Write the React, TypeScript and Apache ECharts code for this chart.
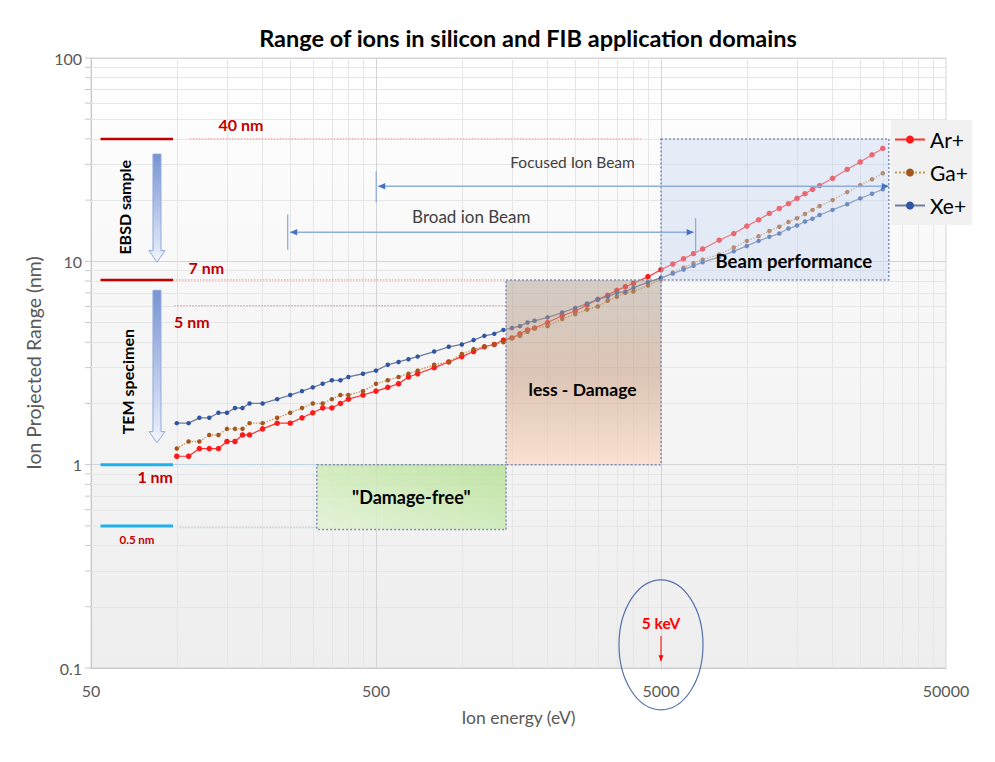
import React, { useEffect, useRef } from 'react';
import * as echarts from 'echarts';

const chartTitle = 'Range of ions in silicon and FIB application domains';
const seriesNames = ['Ar+', 'Ga+', 'Xe+'];

// Ion energy (eV)
const energies = [
  100, 110, 120, 130, 140, 150, 160, 170, 180,
  200, 225, 250, 275, 300, 325, 350, 375, 400,
  450, 500, 550, 600, 650, 700,
  800, 900, 1000, 1100, 1200, 1300, 1400, 1500, 1600, 1700, 1800,
  2000, 2250, 2500, 2750, 3000, 3250, 3500, 3750, 4000,
  4500, 5000, 5500, 6000, 6500, 7000,
  8000, 9000, 10000, 11000, 12000, 13000, 14000, 15000, 16000, 17000, 18000,
  20000, 22500, 25000, 27500, 30000,
];

// Projected range (nm)
const arRange = [
  1.1, 1.1, 1.2, 1.2, 1.2, 1.3, 1.3, 1.4, 1.4,
  1.5, 1.6, 1.6, 1.7, 1.8, 1.9, 1.9, 2.0, 2.1,
  2.2, 2.3, 2.4, 2.5, 2.7, 2.8,
  3.0, 3.2, 3.4, 3.6, 3.8, 3.9, 4.1, 4.2, 4.4, 4.6, 4.7,
  5.0, 5.4, 5.7, 6.1, 6.5, 6.8, 7.2, 7.5, 7.8,
  8.4, 9.1, 9.7, 10.3, 10.9, 11.5,
  12.7, 13.7, 14.9, 16.0, 17.2, 18.2, 19.2, 20.4, 21.5, 22.6, 23.6,
  25.6, 28.3, 30.8, 33.4, 35.9,
];
const gaRange = [
  1.2, 1.3, 1.3, 1.4, 1.4, 1.5, 1.5, 1.5, 1.6,
  1.6, 1.7, 1.8, 1.9, 2.0, 2.0, 2.1, 2.2, 2.2,
  2.3, 2.5, 2.6, 2.7, 2.8, 2.9,
  3.1, 3.2, 3.5, 3.7, 3.8, 3.9, 4.0, 4.2, 4.3, 4.5, 4.7,
  4.8, 5.2, 5.5, 5.8, 6.0, 6.4, 6.7, 7.0, 7.1,
  7.6, 8.2, 8.8, 9.3, 9.8, 10.2,
  10.8, 11.7, 12.6, 13.3, 14.1, 14.8, 15.6, 16.3, 17.1, 17.9, 18.7,
  20.0, 21.9, 23.7, 25.3, 27.1,
];
const xeRange = [
  1.6, 1.6, 1.7, 1.7, 1.8, 1.8, 1.9, 1.9, 2.0,
  2.0, 2.1, 2.2, 2.3, 2.4, 2.5, 2.6, 2.6, 2.7,
  2.8, 2.9, 3.1, 3.2, 3.3, 3.4,
  3.6, 3.8, 3.9, 4.1, 4.3, 4.4, 4.6, 4.7, 4.8, 5.0, 5.1,
  5.3, 5.6, 5.9, 6.2, 6.5, 6.7, 7.0, 7.1, 7.4,
  7.9, 8.3, 8.7, 9.1, 9.5, 9.9,
  10.5, 11.2, 11.9, 12.6, 13.2, 13.7, 14.5, 15.0, 15.7, 16.2, 16.9,
  17.9, 19.1, 20.4, 21.5, 22.6,
];

const xTickValues = [50, 500, 5000, 50000];
const xTickLabels = ['50', '500', '5000', '50000'];
const xMajorInner = [500, 5000];
const xMinorValues = [
  100, 150, 200, 250, 300, 350, 400, 450,
  1000, 1500, 2000, 2500, 3000, 3500, 4000, 4500,
  10000, 15000, 20000, 25000, 30000, 35000, 40000, 45000,
];
const yMinorValues = [
  0.2, 0.3, 0.4, 0.5, 0.6, 0.7, 0.8, 0.9,
  2, 3, 4, 5, 6, 7, 8, 9,
  20, 30, 40, 50, 60, 70, 80, 90,
];
const yMajorValues = [0.1, 1, 10, 100];

const FONT = 'Lato, "Open Sans", "DejaVu Sans", sans-serif';

export default function App() {
  const ref = useRef<HTMLDivElement>(null);

  useEffect(() => {
    if (!ref.current) return;
    const chart = echarts.init(ref.current, null, { renderer: 'svg' });

    const option: any = {
      animation: false,
      backgroundColor: '#ffffff',
      textStyle: { fontFamily: FONT },
      grid: {
        left: 91, right: 49, top: 58, bottom: 94,
        show: true,
        borderColor: '#d6d6d6',
        borderWidth: 1,
        backgroundColor: new echarts.graphic.LinearGradient(0, 0, 0, 1, [
          { offset: 0, color: '#ffffff' },
          { offset: 0.4, color: '#f7f7f7' },
          { offset: 1, color: '#eeeeee' },
        ]),
      },
      legend: {
        data: seriesNames,
        orient: 'vertical',
        left: 891,
        top: 120,
        backgroundColor: '#f1f1f1',
        padding: [9, 4, 9, 3],
        itemGap: 12,
        itemWidth: 30,
        itemHeight: 10,
        selectedMode: false,
        textStyle: { fontSize: 21, color: '#000', fontFamily: FONT },
      },
      xAxis: {
        type: 'log',
        logBase: 10,
        min: 50,
        max: 50000,
        name: 'Ion energy (eV)',
        nameLocation: 'middle',
        nameGap: 40,
        nameTextStyle: { fontSize: 17.5, color: '#595959', fontFamily: FONT },
        axisLine: { show: true, lineStyle: { color: '#c8c8c8' } },
        axisTick: { show: false },
        axisLabel: { show: false },
        splitLine: { show: false },
      },
      yAxis: {
        type: 'log',
        logBase: 10,
        min: 0.1,
        max: 100,
        name: 'Ion Projected Range (nm)',
        nameLocation: 'middle',
        nameGap: 47,
        nameTextStyle: { fontSize: 19.5, color: '#595959', fontFamily: FONT },
        axisLine: { show: true, lineStyle: { color: '#c8c8c8' } },
        axisTick: { show: false },
        axisLabel: {
          fontSize: 16, color: '#595959', margin: 9, fontFamily: FONT,
          formatter: (v: number) => String(Number(v.toPrecision(6))),
        },
        splitLine: { show: true, lineStyle: { color: '#d4d4d4', width: 1 } },
      },
      series: [
        {
          name: 'Ar+', type: 'line', z: 2,
          data: energies.map((e, i) => [e, arRange[i]]),
          symbol: 'circle', symbolSize: 5.5,
          itemStyle: { color: '#ff1a1a' },
          lineStyle: { color: '#ff3030', width: 1.2 },
        },
        {
          name: 'Ga+', type: 'line', z: 2,
          data: energies.map((e, i) => [e, gaRange[i]]),
          symbol: 'circle', symbolSize: 4.5,
          itemStyle: { color: '#a5561c' },
          lineStyle: { color: '#c49a5a', width: 1.4, type: 'dotted' },
        },
        {
          name: 'Xe+', type: 'line', z: 2,
          data: energies.map((e, i) => [e, xeRange[i]]),
          symbol: 'circle', symbolSize: 4.5,
          itemStyle: { color: '#2f55a4' },
          lineStyle: { color: '#6d7e9e', width: 1.3 },
        },
        {
          name: 'gridlines', type: 'line', z: 1,
          data: [], silent: true, showSymbol: false,
          markLine: {
            silent: true, z: 1,
            symbol: ['none', 'none'],
            label: { show: false },
            lineStyle: { color: '#e6e6e6', width: 1, type: 'solid' },
            data: [
              ...xMinorValues.map((v) => ({ xAxis: v })),
              ...yMinorValues.map((v) => ({ yAxis: v })),
              ...xMajorInner.map((v) => ({ xAxis: v, lineStyle: { color: '#d4d4d4', width: 1, type: 'solid' } })),
            ],
          },
        },
      ],
    };

    chart.setOption(option);

    const p = (e: number, r: number): number[] =>
      chart.convertToPixel({ seriesIndex: 0 }, [e, r]) as number[];

    const g: any[] = [];
    const line = (a: number[], b: number[], stroke: string, width: number, dash?: number[], z = 4) => ({
      type: 'line', z, silent: true,
      shape: { x1: a[0], y1: a[1], x2: b[0], y2: b[1] },
      style: { stroke, lineWidth: width, lineDash: dash || null },
    });
    const text = (x: number, y: number, t: string, size: number, color: string, weight = 'bold', rot = 0, z = 12) => ({
      type: 'text', z, x, y, rotation: rot, silent: true,
      style: { text: t, fill: color, fontSize: size, fontWeight: weight, fontFamily: FONT, align: 'center', verticalAlign: 'middle' },
    });
    const head = (x: number, y: number, dir: string, color: string, len = 7, half = 3.2) => {
      let pts: number[][];
      if (dir === 'left') pts = [[x, y], [x + len, y - half], [x + len, y + half]];
      else if (dir === 'right') pts = [[x, y], [x - len, y - half], [x - len, y + half]];
      else pts = [[x, y], [x - half, y - len], [x + half, y - len]];
      return { type: 'polygon', z: 6, silent: true, shape: { points: pts }, style: { fill: color } };
    };
    const box = (e1: number, e2: number, rLow: number, rHigh: number, fill: any) => {
      const a = p(e1, rHigh);
      const b = p(e2, rLow);
      return {
        type: 'rect', z: 3, silent: true,
        shape: { x: a[0], y: a[1], width: b[0] - a[0], height: b[1] - a[1] },
        style: { fill, stroke: '#7d8fb6', lineWidth: 1.5, lineDash: [2, 2] },
      };
    };
    const blockArrow = (e: number, rTop: number, rHead: number, rTip: number) => {
      const t = p(e, rTop), h = p(e, rHead), tip = p(e, rTip);
      const cx = t[0];
      return {
        type: 'polygon', z: 5, silent: true,
        shape: {
          points: [
            [cx - 4, t[1]], [cx + 4, t[1]], [cx + 4, h[1]], [cx + 8, h[1]],
            [cx, tip[1]], [cx - 8, h[1]], [cx - 4, h[1]],
          ],
        },
        style: {
          fill: new echarts.graphic.LinearGradient(0, 0, 0, 1, [
            { offset: 0, color: '#7693d3' },
            { offset: 0.85, color: '#dbe4f5' },
            { offset: 1, color: '#f4f7fc' },
          ]),
          stroke: '#91aade',
          lineWidth: 1,
        },
      };
    };

    // Title
    g.push(text(528, 38, chartTitle, 23.5, '#000000', 'bold', 0, 20));

    // X tick labels
    xTickValues.forEach((v, i) => {
      const a = p(v, 0.1);
      g.push(text(a[0], a[1] + 22, xTickLabels[i], 16, '#595959', 'normal', 0, 20));
    });

    // Y-axis ticks (outside)
    [...yMajorValues, ...yMinorValues].forEach((v) => {
      const a = p(50, v);
      g.push(line([a[0] - 6, a[1]], [a[0], a[1]], '#c8c8c8', 1, undefined, 20));
    });

    // Domain rectangles
    g.push(box(310, 1430, 0.48, 1.0, new echarts.graphic.LinearGradient(0, 1, 1, 0, [
      { offset: 0, color: 'rgba(226,244,212,0.8)' },
      { offset: 1, color: 'rgba(180,224,146,0.8)' },
    ])));
    g.push(box(1430, 5000, 1.0, 8.1, new echarts.graphic.LinearGradient(0, 0, 0, 1, [
      { offset: 0, color: 'rgba(176,160,146,0.5)' },
      { offset: 0.5, color: 'rgba(196,152,122,0.52)' },
      { offset: 1, color: 'rgba(255,210,182,0.55)' },
    ])));
    g.push(box(5000, 31500, 8.1, 40, 'rgba(200,214,240,0.42)'));

    const redSolid = '#c00000';
    const redDot = '#f08a8a';
    const blueSolid = '#1fb0ee';
    const blueDot = '#a9d2ee';
    // Reference thickness lines
    g.push(line(p(54, 40), p(97, 40), redSolid, 2.5));
    g.push(line(p(111, 40), p(4250, 40), redDot, 1, [1.5, 1.5]));
    g.push(line(p(54, 8.1), p(97, 8.1), redSolid, 2.5));
    g.push(line(p(97, 8.1), p(1430, 8.1), redDot, 1, [1.5, 1.5]));
    g.push(line(p(98, 6.05), p(1430, 6.05), redDot, 1, [1.5, 1.5]));
    g.push(line(p(54, 1), p(97, 1), blueSolid, 3));
    g.push(line(p(97, 1), p(310, 1), blueDot, 1, [1.5, 1.5]));
    g.push(line(p(54, 0.5), p(97, 0.5), blueSolid, 3));
    g.push(line(p(102, 0.49), p(310, 0.49), blueDot, 1, [1.5, 1.5]));

    const q = (e: number, r: number) => p(e, r);
    let a = q(168, 47.3); g.push(text(a[0], a[1], '40 nm', 16, redSolid));
    a = q(127, 9.34); g.push(text(a[0], a[1], '7 nm', 16, redSolid));
    a = q(113, 5.06); g.push(text(a[0], a[1], '5 nm', 16, redSolid));
    a = q(84, 0.873); g.push(text(a[0], a[1], '1 nm', 16, redSolid));
    a = q(72.5, 0.427); g.push(text(a[0], a[1], '0.5 nm', 11.5, redSolid));

    // Vertical block arrows and rotated labels
    g.push(blockArrow(85.2, 33.7, 11.3, 9.89));
    g.push(blockArrow(85.2, 7.2, 1.454, 1.283));
    a = q(65.8, 18.45); g.push(text(a[0], a[1], 'EBSD sample', 16, '#000000', 'bold', Math.PI / 2));
    a = q(67.1, 2.56); g.push(text(a[0], a[1], 'TEM specimen', 16, '#000000', 'bold', Math.PI / 2));

    // Domain labels
    a = q(665, 0.69); g.push(text(a[0], a[1], '"Damage-free"', 18, '#000000'));
    a = q(2653, 2.34); g.push(text(a[0], a[1], 'less - Damage', 17.5, '#000000'));
    a = q(14620, 10.0); g.push(text(a[0], a[1], 'Beam performance', 18.5, '#000000'));

    // Focused ion beam arrow
    const arrowLine = '#90acdd';
    const arrowHeadColor = '#4472c4';
    const fa = q(509, 23.4), fb = q(31500, 23.4);
    g.push(line(fa, fb, arrowLine, 1.3));
    g.push(head(fa[0], fa[1], 'left', arrowHeadColor));
    g.push(head(fb[0], fb[1], 'right', arrowHeadColor));
    g.push(line(q(501, 27.7), q(501, 19.5), arrowLine, 1.3));
    a = q(2446, 30.7); g.push(text(a[0], a[1], 'Focused Ion Beam', 15.5, '#404040', 'normal'));

    // Broad ion beam arrow
    const ba = q(250, 13.9), bb = q(6509, 13.9);
    g.push(line(ba, bb, arrowLine, 1.3));
    g.push(head(ba[0], ba[1], 'left', arrowHeadColor));
    g.push(head(bb[0], bb[1], 'right', arrowHeadColor));
    g.push(line(q(245, 17.0), q(245, 11.4), arrowLine, 1.3));
    g.push(line(q(6613, 16.3), q(6613, 10.9), arrowLine, 1.3));
    a = q(1080, 16.7); g.push(text(a[0], a[1], 'Broad ion Beam', 17, '#404040', 'normal'));

    // 5 keV marker
    a = q(5000, 0.1667); g.push(text(a[0], a[1], '5 keV', 15.5, '#ff0000'));
    const ka = q(5000, 0.1435), kb = q(5000, 0.108);
    g.push(line(ka, kb, '#ff0000', 1));
    g.push(head(kb[0], kb[1], 'down', '#ff0000', 6, 2.5));
    const ec = q(5000, 0.13);
    g.push({
      type: 'ellipse', z: 6, silent: true,
      shape: { cx: ec[0], cy: ec[1], rx: 42, ry: 65 },
      style: { fill: 'none', stroke: '#5572aa', lineWidth: 1.2 },
    });

    chart.setOption({ graphic: g });

    return () => chart.dispose();
  }, []);

  return (
    <div
      ref={ref}
      style={{ position: 'fixed', left: 0, top: 0, width: 995, height: 762, background: '#fff' }}
    />
  );
}
